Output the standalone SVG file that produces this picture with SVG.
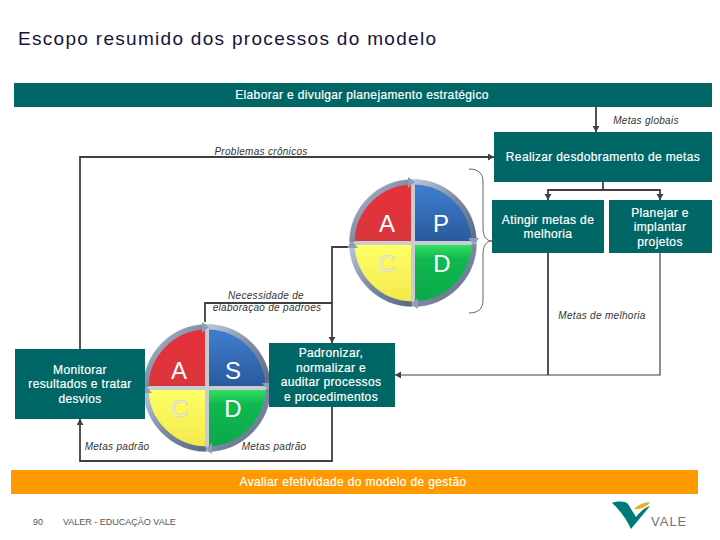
<svg xmlns="http://www.w3.org/2000/svg" width="720" height="540" viewBox="0 0 720 540">
<style>
text{font-family:"Liberation Sans",Arial,sans-serif}
.box{fill:#006666}
.w{fill:#fff;font-size:12px;text-anchor:middle;letter-spacing:.35px;stroke:#fff;stroke-width:.2}
.i{fill:#333;font-size:10px;font-style:italic;text-anchor:middle;letter-spacing:.3px}
.c{fill:none;stroke:#404040;stroke-width:1.8}
.l{fill:#fff;font-size:24px;text-anchor:middle}
.lc{fill:#f4f4d8;font-size:24px;text-anchor:middle;stroke:#c9c9a8;stroke-width:.5}
.q{stroke:none}
.ring{fill:none;stroke:url(#rg);stroke-width:5}
</style>
<defs>
<marker id="a" markerWidth="8" markerHeight="8" refX="6" refY="3.5" orient="auto" markerUnits="userSpaceOnUse"><path d="M0 0L6 3.5L0 7z" fill="#404040"/></marker>
<linearGradient id="rg" x1="0" y1="0" x2="1" y2="1"><stop offset="0" stop-color="#b9c4d6"/><stop offset=".5" stop-color="#7d8aa3"/><stop offset="1" stop-color="#5c6a85"/></linearGradient>
<linearGradient id="red" x1="0" y1="0" x2="0" y2="1"><stop offset="0" stop-color="#e8303a"/><stop offset="1" stop-color="#d9363c"/></linearGradient>
<linearGradient id="blue" x1="0" y1="0" x2="0" y2="1"><stop offset="0" stop-color="#3f7fd0"/><stop offset="1" stop-color="#2a5a9c"/></linearGradient>
<linearGradient id="yel" x1="0" y1="0" x2="0" y2="1"><stop offset="0" stop-color="#ffff66"/><stop offset="1" stop-color="#f3e84e"/></linearGradient>
<linearGradient id="grn" x1="0" y1="0" x2="0" y2="1"><stop offset="0" stop-color="#30e060"/><stop offset=".25" stop-color="#10b850"/><stop offset="1" stop-color="#0ca848"/></linearGradient>
<g id="wheel">
<circle r="64" fill="#c9ccd2"/>
<path class="q" d="M-2-2V-59A59 59 0 0 0-59-2Z" fill="url(#red)"/>
<path class="q" d="M2-2V-59A59 59 0 0 1 59-2Z" fill="url(#blue)"/>
<path class="q" d="M-2 2V59A59 59 0 0 1-59 2Z" fill="url(#yel)"/>
<path class="q" d="M2 2V59A59 59 0 0 0 59 2Z" fill="url(#grn)"/>
<path class="ring" d="M-1-61A61 61 0 0 0-61-1"/>
<path class="ring" d="M1-61A61 61 0 0 1 61-1"/>
<path class="ring" d="M-1 61A61 61 0 0 1-61 1"/>
<path class="ring" d="M1 61A61 61 0 0 0 61 1"/>
<path d="M-5-66L2-61L-5-55Z" fill="#8f9db5"/>
<path d="M66-5L61 2L55-5Z" fill="#8f9db5"/>
<path d="M5 66L-2 61L5 55Z" fill="#8f9db5"/>
<path d="M-66 5L-61-2L-55 5Z" fill="#8f9db5"/>
</g>
</defs>
<rect width="720" height="540" fill="#fff"/>
<text x="18" y="45" fill="#14143c" font-size="19" letter-spacing="1.3">Escopo resumido dos processos do modelo</text>

<g id="connectors">
<path class="c" d="M596 107V132" marker-end="url(#a)" stroke-width="2"/>
<path class="c" d="M80 349V157H494" marker-end="url(#a)"/>
<path class="c" d="M603 182V190"/>
<path class="c" d="M603 190H548V200" marker-end="url(#a)"/>
<path class="c" d="M603 190H660V200" marker-end="url(#a)"/>
<path class="c" d="M548 253V375"/>
<path class="c" style="stroke-width:1.2" d="M660 253V375H395" marker-end="url(#a)"/>
<path class="c" d="M350 247H332V343" marker-end="url(#a)"/>
<path class="c" d="M205 322V303H332"/>
<path class="c" d="M332 407V461H80V419" marker-end="url(#a)"/>
<path d="M469 169C479 169 483 174 483 182V228C483 236 486 241 492 241C486 241 483 246 483 254V300C483 308 479 313 469 313" fill="none" stroke="#404040" stroke-width=".8"/>
</g>

<g id="n-wheel-1"><use href="#wheel" x="413" y="243"/>
<text class="l" x="387" y="232">A</text><text class="l" x="441" y="232">P</text><text class="lc" x="387" y="272">C</text><text class="l" x="442" y="272">D</text></g>
<g id="n-wheel-2"><use href="#wheel" x="207" y="388"/>
<text class="l" x="179" y="379">A</text><text class="l" x="233" y="379">S</text><text class="lc" x="180" y="417">C</text><text class="l" x="233" y="417">D</text></g>

<g id="n-plan"><rect class="box" x="14" y="83" width="698" height="24"/><text class="w" x="362" y="99">Elaborar e divulgar planejamento estratégico</text></g>
<g id="n-desd"><rect class="box" x="494" y="132" width="218" height="50"/><text class="w" x="603" y="161">Realizar desdobramento de metas</text></g>
<g id="n-ating"><rect class="box" x="492" y="200" width="112" height="53"/><text class="w" x="548" y="224">Atingir metas de</text><text class="w" x="548" y="238">melhoria</text></g>
<g id="n-plano"><rect class="box" x="609" y="200" width="103" height="53"/><text class="w" x="660" y="217">Planejar e</text><text class="w" x="660" y="231">implantar</text><text class="w" x="660" y="246">projetos</text></g>
<g id="n-padr"><rect class="box" x="269" y="343" width="126" height="64"/><text class="w" x="331" y="357">Padronizar,</text><text class="w" x="331" y="372">normalizar e</text><text class="w" x="331" y="386">auditar processos</text><text class="w" x="331" y="401">e procedimentos</text></g>
<g id="n-mon"><rect class="box" x="15" y="349" width="130" height="70"/><text class="w" x="80" y="374">Monitorar</text><text class="w" x="80" y="388">resultados e tratar</text><text class="w" x="80" y="403">desvios</text></g>
<g id="n-aval"><rect x="11" y="470" width="687" height="24" fill="#ff9900"/><text class="w" x="353" y="486">Avaliar efetividade do modelo de gestão</text></g>

<text class="i" x="646" y="124">Metas globais</text>
<text class="i" x="261" y="155">Problemas crônicos</text>
<text class="i" x="266" y="299">Necessidade de</text>
<text class="i" x="267" y="311">elaboração de padrões</text>
<text class="i" x="602" y="319">Metas de melhoria</text>
<text class="i" x="117" y="450">Metas padrão</text>
<text class="i" x="274" y="450">Metas padrão</text>
<text x="33" y="525" fill="#555" font-size="9">90</text>
<text x="63" y="525" fill="#555" font-size="9">VALER - EDUCAÇÃO VALE</text>
<g id="logo">
<path d="M612 503C618 501 625 501 628 504L636 517C640 512 644 508 650 506L631 529C627 520 620 510 612 503Z" fill="#007a78"/>
<path d="M634 509C638 505 644 502 650 502C647 507 640 510 634 509Z" fill="#e6b02e"/>
<text x="651" y="526" fill="#6d7278" font-size="13" letter-spacing="1">VALE</text>
</g>
</svg>
